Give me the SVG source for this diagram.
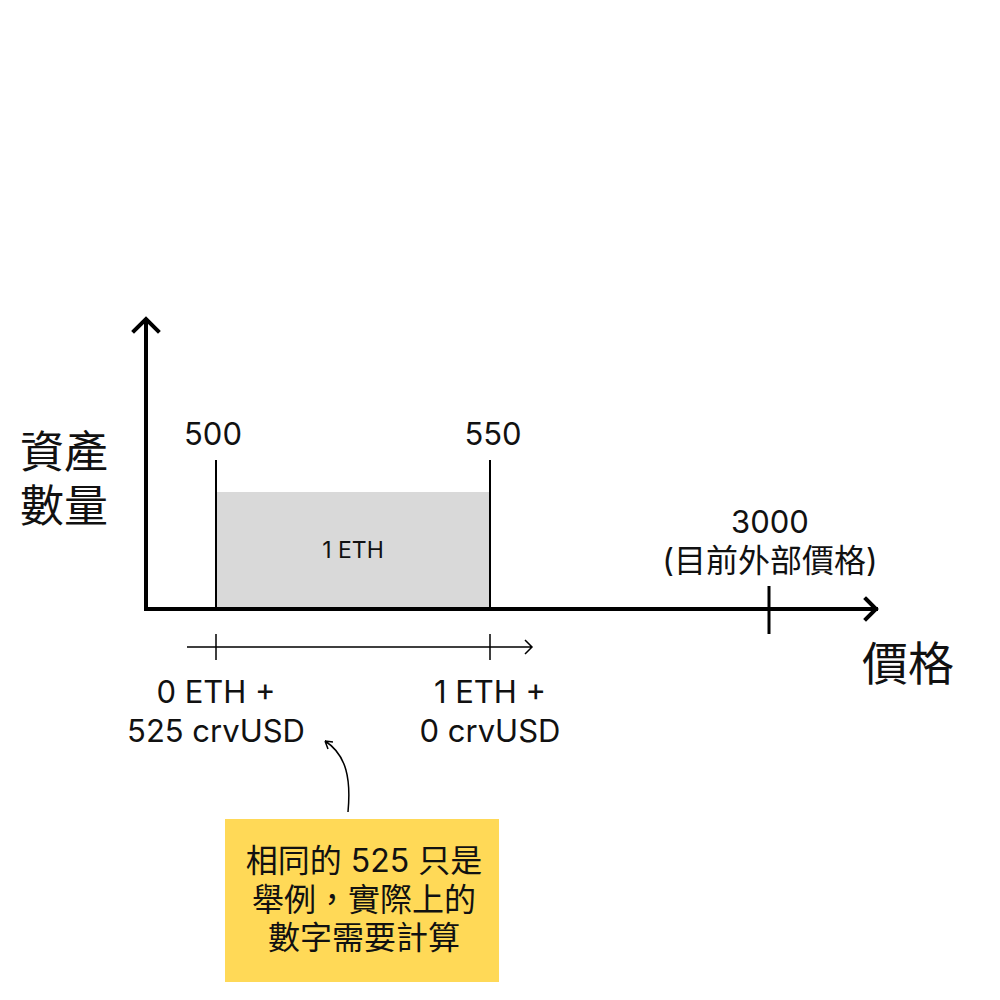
<svg xmlns="http://www.w3.org/2000/svg" width="1000" height="1000" viewBox="0 0 1000 1000">
<style>
text{font-family:Inter,"Noto Sans CJK TC",sans-serif;fill:#111;}
.ax{stroke:#000;stroke-width:4;fill:none;stroke-linecap:square;stroke-linejoin:miter}
.thin{stroke:#000;stroke-width:1.5;fill:none}
.m{font-size:31px;text-anchor:middle}
.n{font-size:32px;text-anchor:middle}
</style>
<rect width="1000" height="1000" fill="#fff"/>
<g id="band">
<rect x="216" y="492" width="274" height="117" fill="#d9d9d9"/>
<text x="353" y="558" font-size="23" text-anchor="middle">1 ETH</text>
</g>
<g id="connectors">
<path class="ax" d="M146,609 V320 M134,331 L146,319 L158,331"/>
<path class="ax" d="M146,609 H876 M866,599 L876,609 L866,619"/>
<line x1="216" y1="460" x2="216" y2="609" stroke="#000" stroke-width="2"/>
<line x1="490" y1="460" x2="490" y2="609" stroke="#000" stroke-width="2"/>
<line x1="769" y1="586" x2="769" y2="634" stroke="#000" stroke-width="3"/>
<path class="thin" d="M187,647 H532 M525,640 L532,647 L525,654 M216,634 V660 M490,634 V660"/>
<path class="thin" d="M348,812 C351,780 347,755 325,741 M325,741 L333,742 M325,741 L328,749"/>
</g>
<g id="y-label"><text x="64" y="468" font-size="44" text-anchor="middle">資產</text><text x="64" y="522" font-size="44" text-anchor="middle">數量</text></g>
<g id="x-label"><text x="908" y="680" font-size="46" text-anchor="middle">價格</text></g>
<g id="p500"><text class="m" x="213" y="445">500</text></g>
<g id="p550"><text class="m" x="493" y="445">550</text></g>
<g id="p3000"><text class="m" x="770" y="533">3000</text><text class="n" x="770" y="572">(目前外部價格)</text></g>
<g id="left"><text class="m" x="216" y="703">0 ETH +</text><text class="m" x="216" y="742">525 crvUSD</text></g>
<g id="right"><text class="m" x="490" y="703">1 ETH +</text><text class="m" x="490" y="742">0 crvUSD</text></g>
<g id="note">
<rect x="225" y="819" width="274" height="163" fill="#ffd957"/>
<text class="n" x="364" y="872">相同的 525 只是</text>
<text class="n" x="364" y="911">舉例，實際上的</text>
<text class="n" x="364" y="949">數字需要計算</text>
</g>
</svg>
